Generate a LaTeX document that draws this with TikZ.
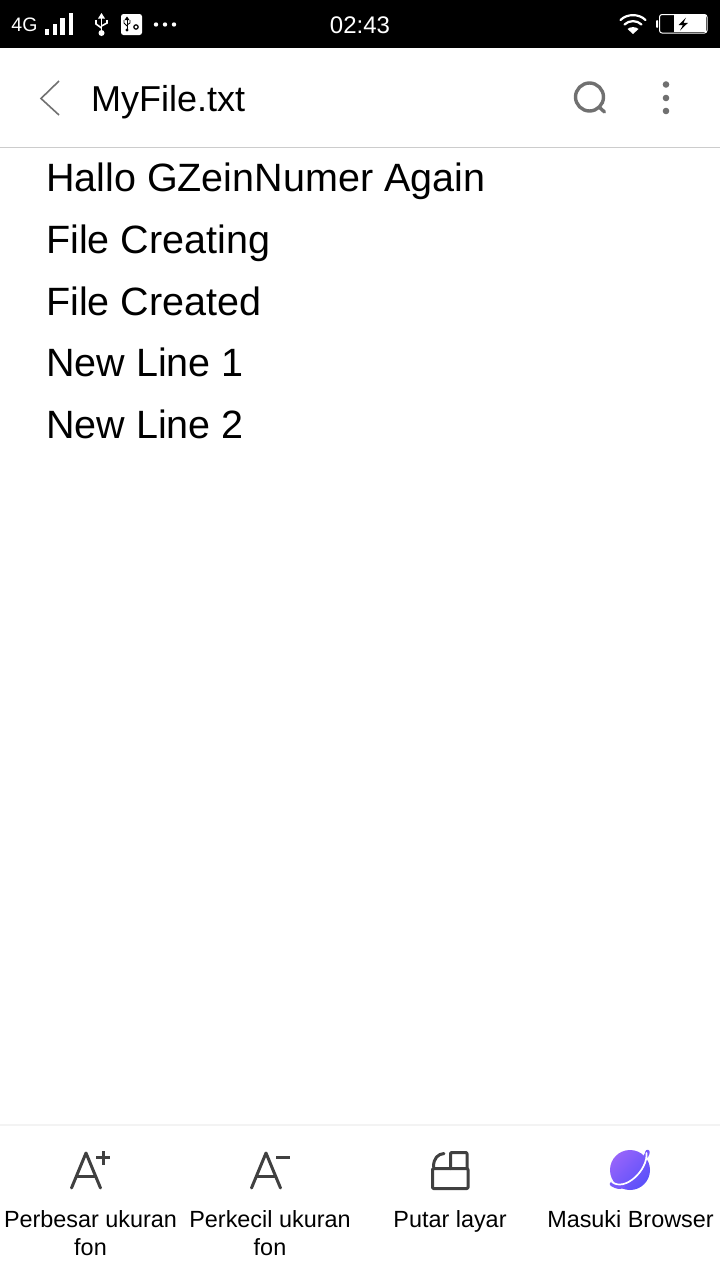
\documentclass[tikz,border=0pt]{standalone}
\usepackage{fontspec}
\setmainfont{Liberation Sans}
\usetikzlibrary{arrows.meta,positioning,calc}
\definecolor{chrome}{RGB}{112,112,112}
\definecolor{icondark}{RGB}{64,64,64}
\definecolor{hairline}{RGB}{204,204,204}
\definecolor{softline}{RGB}{243,243,243}
\definecolor{planetA}{RGB}{150,100,250}
\definecolor{planetB}{RGB}{90,80,250}
\definecolor{planetC}{RGB}{120,90,250}
\tikzset{
  bodyline/.style={anchor=base west,inner sep=0pt,font=\fontsize{39.5}{40}\selectfont},
  titletext/.style={anchor=base west,inner sep=0pt,font=\fontsize{36}{36}\selectfont},
  barlabel/.style={anchor=base,inner sep=0pt,font=\fontsize{23.4}{24}\selectfont},
  statustext/.style={anchor=base,inner sep=0pt,text=white},
  sigbar/.style={fill=white,draw=none},
  toolicon/.style={draw=icondark,line width=3pt,line cap=round,line join=round},
  topicon/.style={draw=chrome,line width=3.4pt,line cap=round},
  wifiarc/.style={draw=white,line width=2.2pt,line cap=round},
}
\begin{document}
\begin{tikzpicture}[x=1pt,y=-1pt]
  \useasboundingbox (0,0) rectangle (720,1280);
  \fill[white] (0,0) rectangle (720,1280);
  \fill[black] (0,0) rectangle (720,48);

  \node[statustext,font=\fontsize{19.5}{20}\selectfont] (net) at (24.5,31.5) {4G};
  \fill[sigbar] (45,29) rectangle (49,34.5);
  \fill[sigbar] (52.5,24) rectangle (56.5,34.5);
  \fill[sigbar] (60,18) rectangle (64.5,34.5);
  \fill[sigbar] (68.5,13) rectangle (73,34.5);

  \draw[white,line width=1.8pt] (101.5,17) -- (101.5,32);
  \fill[white] (101.5,13) -- (105,18.5) -- (98,18.5) -- cycle;
  \fill[white] (101.5,33) circle (3);
  \draw[white,line width=1.6pt] (96,20) -- (96,24) -- (101.5,28);
  \draw[white,line width=1.6pt] (107,20) -- (107,23) -- (101.5,26);
  \fill[white,rounded corners=2.5pt] (121,14) rectangle (142,35);
  \draw[black,line width=1pt] (127,18) -- (127,30);
  \fill[black] (127,16.5) -- (129.5,20) -- (124.5,20) -- cycle;
  \fill[black] (127,30) circle (1.6);
  \draw[black,line width=.8pt] (124,20) -- (124,23) -- (127,26);
  \draw[black,line width=.8pt] (130,20) -- (130,23) -- (127,25);
  \draw[black,line width=1.2pt] (136,27) circle (2.2);
  \foreach \dotx in {156,165,174}
    \fill[white] (\dotx,24.5) circle (2.2);
  \node[statustext,font=\fontsize{24}{24}\selectfont] (clock) at (360,33.5) {02:43};

  \draw[wifiarc] (620.5,20) .. controls (627,13.5) and (639,13.5) .. (645.5,20);
  \draw[wifiarc] (624.5,24.5) .. controls (629,20) and (637,20) .. (641.5,24.5);
  \fill[white] (633,34) -- (627.5,29) .. controls (630,26.5) and (636,26.5) .. (638.5,29) -- cycle;
  \fill[white,rounded corners=1pt] (656,20) rectangle (658,28);
  \fill[white] (674,15) rectangle (706,32);
  \draw[white,line width=1pt,rounded corners=2.5pt] (659.5,14.5) rectangle (707,33);
  \fill[black] (686,17.5) -- (678.5,25) -- (683,25) -- (680,30.5) -- (688,22.8) -- (683.5,22.8) -- cycle;

  \draw[chrome,line width=1.6pt,line join=miter] (59,81) -- (41,98.5) -- (59,115);
  \node[titletext] (title) at (91,111.5) {MyFile.txt};
  \draw[topicon] (589.5,97) circle (14);
  \draw[topicon] (599,107) -- (604.5,112);
  \foreach \doty in {84.5,98,111}
    \fill[chrome] (666,\doty) circle (3.3);
  \draw[hairline,line width=1pt] (0,147.5) -- (720,147.5);

  \node[bodyline] (line1) at (46,191.5) {Hallo GZeinNumer Again};
  \node[bodyline] (line2) at (46,253.5) {File Creating};
  \node[bodyline] (line3) at (46,315.5) {File Created};
  \node[bodyline] (line4) at (46,376.5) {New Line 1};
  \node[bodyline] (line5) at (46,438.5) {New Line 2};

  \draw[softline,line width=1.5pt] (0,1125) -- (720,1125);

  \draw[toolicon] (71.5,1188) -- (86,1153) -- (100.5,1188);
  \draw[toolicon,line cap=butt] (76.5,1176) -- (95.5,1176);
  \draw[toolicon,line cap=butt] (96,1157.5) -- (110,1157.5);
  \draw[toolicon,line cap=butt] (103,1151) -- (103,1164.5);

  \draw[toolicon] (251.5,1188) -- (266,1153) -- (280.5,1188);
  \draw[toolicon,line cap=butt] (256.5,1176) -- (275.5,1176);
  \draw[toolicon,line cap=butt] (276,1157) -- (290,1157);

  \draw[toolicon,rounded corners=1pt] (432.5,1168.5) rectangle (468,1188.5);
  \draw[toolicon,rounded corners=1pt] (450.5,1168.5) -- (450.5,1152.5) -- (467,1152.5) -- (467,1168.5);
  \draw[toolicon] (433.5,1167) .. controls (433.5,1158) and (438,1154) .. (444,1153.5);

  \shade[left color=planetA,right color=planetB,shading angle=45] (630,1170) circle (20);
  \draw[planetC,line width=4.5pt,line cap=round] (612,1184) .. controls (617,1187) and (619,1187) .. (623,1186);
  \draw[planetC,line width=4.5pt,line cap=round] (646,1156) .. controls (647,1154) and (647.5,1153) .. (647.5,1152);
  \draw[white,line width=1.7pt,line cap=round] (612,1182) .. controls (625,1192) and (648,1170) .. (646.5,1153);

  \node[barlabel] (biglabel) at (90.5,1227) {Perbesar ukuran};
  \node[barlabel] (bigfon) at (90.5,1255) {fon};
  \node[barlabel] (smalllabel) at (270,1227) {Perkecil ukuran};
  \node[barlabel] (smallfon) at (270,1255) {fon};
  \node[barlabel] (rotlabel) at (450,1227) {Putar layar};
  \node[barlabel] (weblabel) at (630.5,1227) {Masuki Browser};
\end{tikzpicture}
\end{document}
